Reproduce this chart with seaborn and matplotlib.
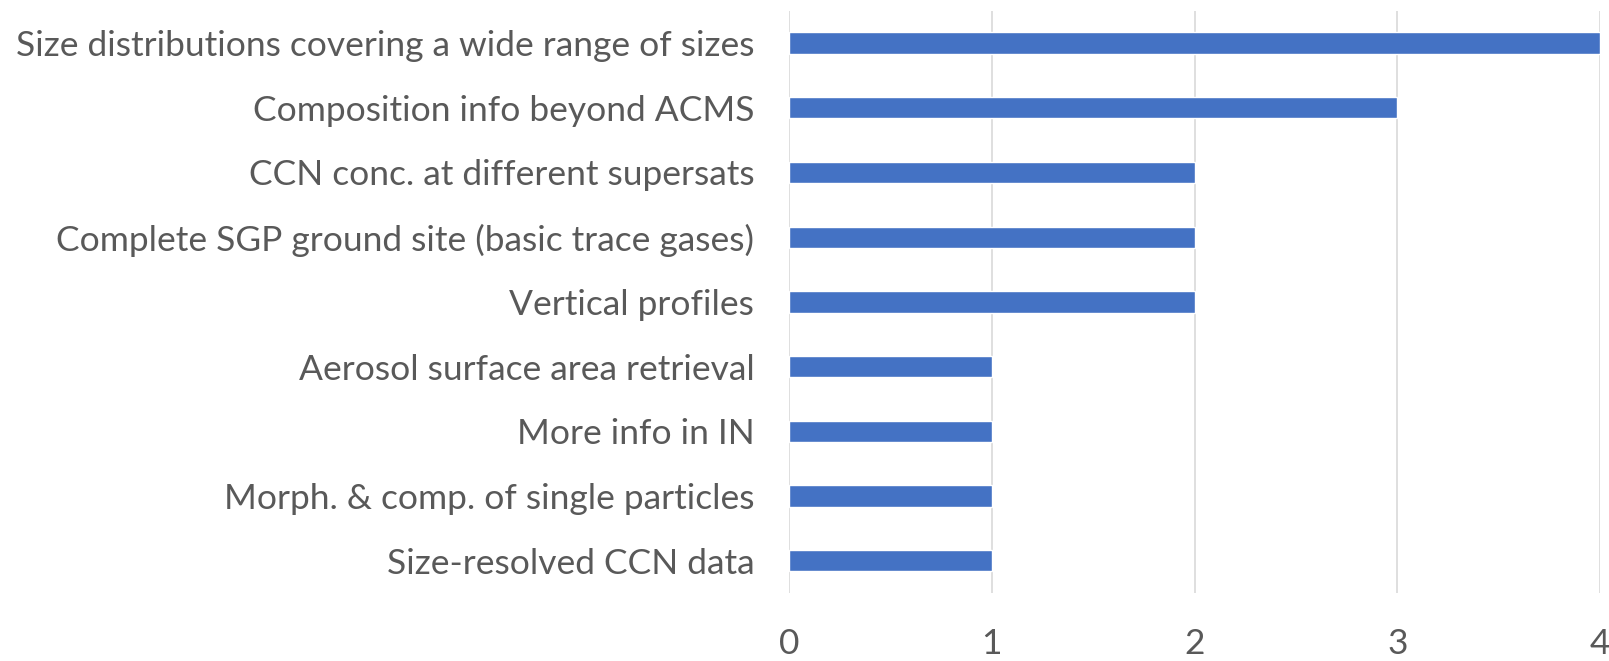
import matplotlib
matplotlib.use("Agg")
import matplotlib.pyplot as plt
import seaborn as sns
import pandas as pd

categories = [
    "Size distributions covering a wide range of sizes",
    "Composition info beyond ACMS",
    "CCN conc. at different supersats",
    "Complete SGP ground site (basic trace gases)",
    "Vertical profiles",
    "Aerosol surface area retrieval",
    "More info in IN",
    "Morph. & comp. of single particles",
    "Size-resolved CCN data",
]
values = [4, 3, 2, 2, 2, 1, 1, 1, 1]
xticks = [0, 1, 2, 3, 4]

sns.set_theme(style="white")
plt.rcParams['font.family'] = ['Lato', 'DejaVu Sans']

df = pd.DataFrame({"cat": categories, "val": values})

fig = plt.figure(figsize=(16.09, 6.61), dpi=100)
ax = fig.add_axes([0.4904, 0.1029, 0.5040, 0.8808])
sns.barplot(data=df, y="cat", x="val", color="#4472C4", width=0.33,
            saturation=1, ax=ax, order=categories)
ax.set_xlim(0, 4)
ax.set_ylim(8.5, -0.5)
ax.set_xticks(xticks)
ax.set_xlabel("")
ax.set_ylabel("")
ax.grid(axis="x", color="#d9d9d9", linewidth=1.2)
ax.set_axisbelow(True)
for s in ax.spines.values():
    s.set_visible(False)
ax.tick_params(axis="y", length=0, pad=25, labelsize=25.5, labelcolor="#595959")
ax.tick_params(axis="x", length=0, pad=25, labelsize=25.5, labelcolor="#595959")
fig.savefig("out.png", dpi=100)
